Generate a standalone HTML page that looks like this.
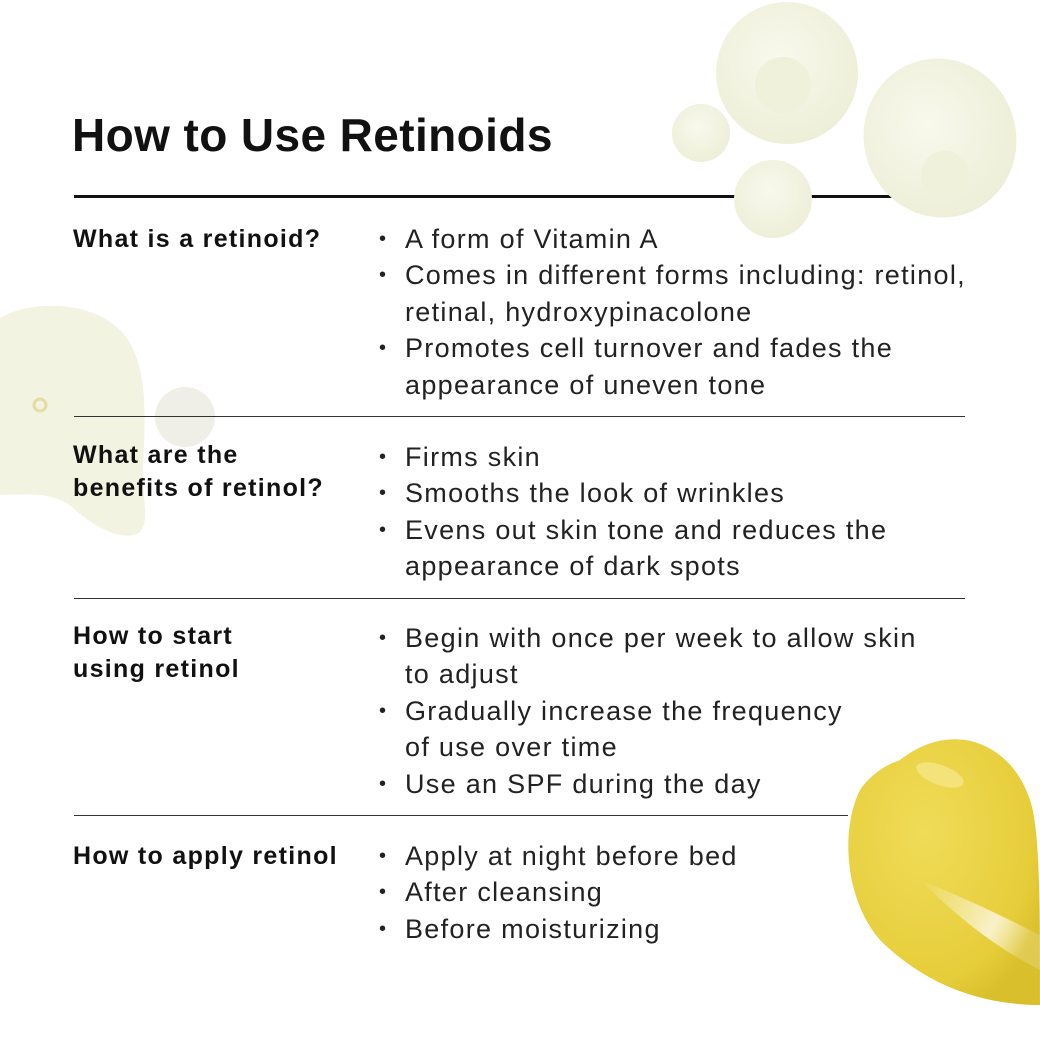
<!DOCTYPE html>
<html><head><meta charset="utf-8"><style>
html,body{margin:0;padding:0;background:#fff;}
body{width:1040px;height:1040px;position:relative;overflow:hidden;font-family:"Liberation Sans",sans-serif;color:#1a1a1a;}
h1{position:absolute;left:72px;top:108px;margin:0;font-size:46px;font-weight:bold;letter-spacing:0.4px;color:#111;}
.lab{position:absolute;left:73px;font-size:25px;font-weight:bold;line-height:33px;color:#111;letter-spacing:1.3px;white-space:nowrap;}
.ln{position:absolute;left:405px;font-size:27px;line-height:36.5px;color:#222;letter-spacing:1.3px;white-space:nowrap;}
.b{position:absolute;left:379px;font-size:20px;color:#222;}
.hr{position:absolute;left:74px;height:1px;background:#333;}
</style></head><body>
<svg width="1040" height="1040" style="position:absolute;left:0;top:0">
<defs>
<radialGradient id="cr" cx="45%" cy="40%" r="60%"><stop offset="0" stop-color="#f8f9ec"/><stop offset="1" stop-color="#edefd8"/></radialGradient>
<radialGradient id="ye" cx="40%" cy="35%" r="70%"><stop offset="0" stop-color="#f0dc58"/><stop offset="0.8" stop-color="#e6cd3a"/><stop offset="1" stop-color="#d9bf2c"/></radialGradient>
<linearGradient id="sh" x1="0" y1="0" x2="1" y2="0.4"><stop offset="0" stop-color="#fff" stop-opacity="0"/><stop offset="0.7" stop-color="#fff" stop-opacity="0.8"/><stop offset="1" stop-color="#fff" stop-opacity="0.2"/></linearGradient>
</defs>
<rect x="74" y="195" width="826" height="3" fill="#111"/>
<path d="M0 318 C30 300 90 300 120 330 C150 360 145 420 143 470 C142 500 150 520 140 532 C120 545 85 520 70 505 C45 490 20 495 0 495 Z" fill="#f3f3e2"/>
<circle cx="40" cy="405" r="6" fill="none" stroke="#e5dca0" stroke-width="3"/>
<circle cx="185" cy="417" r="30" fill="#efefe8"/>
<circle cx="787" cy="73" r="71" fill="url(#cr)"/>
<circle cx="783" cy="85" r="28" fill="#eff1da"/>
<circle cx="701" cy="133" r="29" fill="url(#cr)"/>
<circle cx="773" cy="199" r="39" fill="url(#cr)"/>
<ellipse cx="940" cy="138" rx="76" ry="80" transform="rotate(-20 940 138)" fill="url(#cr)"/>
<circle cx="945" cy="175" r="24" fill="#eff1da"/>
<path d="M900 760 C950 720 1010 740 1030 800 C1040 830 1040 900 1040 1005 C990 1005 930 990 880 940 C845 900 840 830 860 790 C870 775 885 765 900 760 Z" fill="url(#ye)"/>
<path d="M920 880 C970 900 1010 920 1040 935 L1040 970 C1000 950 960 920 920 880 Z" fill="url(#sh)" opacity="0.9"/>
<ellipse cx="940" cy="775" rx="25" ry="10" transform="rotate(20 940 775)" fill="#f3e37a"/>
</svg>
<h1>How to Use Retinoids</h1>
<div class="hr" style="top:416px;width:891px"></div>
<div class="hr" style="top:598px;width:891px"></div>
<div class="hr" style="top:815px;width:774px"></div>

<div class="lab" style="top:223px">What is a retinoid?</div>
<div class="lab" style="top:439px">What are the<br>benefits of retinol?</div>
<div class="lab" style="top:620px">How to start<br>using retinol</div>
<div class="lab" style="top:840px">How to apply retinol</div>

<div class="b" style="top:228px">•</div><div class="ln" style="top:221px">A form of Vitamin A</div>
<div class="b" style="top:264px">•</div><div class="ln" style="top:257px">Comes in different forms including: retinol,</div>
<div class="ln" style="top:294px">retinal, hydroxypinacolone</div>
<div class="b" style="top:337px">•</div><div class="ln" style="top:330px">Promotes cell turnover and fades the</div>
<div class="ln" style="top:367px">appearance of uneven tone</div>

<div class="b" style="top:446px">•</div><div class="ln" style="top:439px">Firms skin</div>
<div class="b" style="top:482px">•</div><div class="ln" style="top:475px">Smooths the look of wrinkles</div>
<div class="b" style="top:519px">•</div><div class="ln" style="top:512px">Evens out skin tone and reduces the</div>
<div class="ln" style="top:548px">appearance of dark spots</div>

<div class="b" style="top:627px">•</div><div class="ln" style="top:620px">Begin with once per week to allow skin</div>
<div class="ln" style="top:656px">to adjust</div>
<div class="b" style="top:700px">•</div><div class="ln" style="top:693px">Gradually increase the frequency</div>
<div class="ln" style="top:729px">of use over time</div>
<div class="b" style="top:773px">•</div><div class="ln" style="top:766px">Use an SPF during the day</div>

<div class="b" style="top:845px">•</div><div class="ln" style="top:838px">Apply at night before bed</div>
<div class="b" style="top:881px">•</div><div class="ln" style="top:874px">After cleansing</div>
<div class="b" style="top:918px">•</div><div class="ln" style="top:911px">Before moisturizing</div>
</body></html>
